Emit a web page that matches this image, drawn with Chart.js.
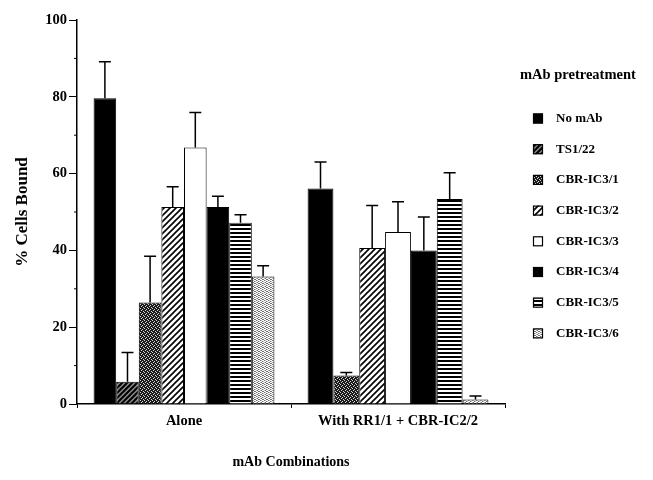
<!DOCTYPE html>
<html>
<head>
<meta charset="utf-8">
<script src="https://cdn.jsdelivr.net/npm/chart.js@4"></script>
<style>
html,body{margin:0;padding:0;background:#fff;}
#wrap{width:653px;height:480px;position:relative;}
</style>
</head>
<body>
<div id="wrap"><canvas id="c" width="653" height="480"></canvas></div>
<script>
// ---- data ----
const categories = ['Alone', 'With RR1/1 + CBR-IC2/2'];
const seriesNames = ['No mAb', 'TS1/22', 'CBR-IC3/1', 'CBR-IC3/2', 'CBR-IC3/3', 'CBR-IC3/4', 'CBR-IC3/5', 'CBR-IC3/6'];
const noMab   = [79.6, 56.1];
const ts122   = [5.8, null];
const cbr31   = [26.4, 7.4];
const cbr32   = [51.3, 40.6];
const cbr33   = [66.8, 44.8];
const cbr34   = [51.3, 40.0];
const cbr35   = [47.2, 53.4];
const cbr36   = [33.2, 1.2];
// upper error (SD) magnitudes
const noMabErr = [9.5, 6.9];
const ts122Err = [7.6, null];
const cbr31Err = [12.1, 0.8];
const cbr32Err = [5.3, 11.1];
const cbr33Err = [9.1, 7.9];
const cbr34Err = [2.8, 8.7];
const cbr35Err = [2.1, 6.8];
const cbr36Err = [2.8, 0.9];
const yTicks = [0, 20, 40, 60, 80, 100];
const yMinorTicks = [10, 30, 50, 70, 90];

const seriesValues = [noMab, ts122, cbr31, cbr32, cbr33, cbr34, cbr35, cbr36];
const seriesErrors = [noMabErr, ts122Err, cbr31Err, cbr32Err, cbr33Err, cbr34Err, cbr35Err, cbr36Err];

// ---- patterns ----
function tile(w, h, draw) {
  const c = document.createElement('canvas');
  c.width = w; c.height = h;
  const x = c.getContext('2d');
  draw(x, w, h);
  return document.getElementById('c').getContext('2d').createPattern(c, 'repeat');
}
function diag(x, s, color, lw) {
  x.strokeStyle = color; x.lineWidth = lw;
  x.beginPath();
  x.moveTo(0, s); x.lineTo(s, 0);
  x.moveTo(-s/2, s/2); x.lineTo(s/2, -s/2);
  x.moveTo(s/2, s + s/2); x.lineTo(s + s/2, s/2);
  x.stroke();
}
const fills = [
  '#000000',
  tile(5, 5, (x, w, h) => { x.fillStyle = '#8a8a8a'; x.fillRect(0,0,w,h); diag(x, 5, '#000', 2); }),
  tile(4, 4, (x, w, h) => { x.fillStyle = '#1a1a1a'; x.fillRect(0,0,w,h); x.fillStyle='#d8d8d8';
        [[0,0],[2,1],[1,2],[3,3]].forEach(p => x.fillRect(p[0], p[1], 1, 1)); }),
  tile(6, 6, (x, w, h) => { x.fillStyle = '#ffffff'; x.fillRect(0,0,w,h); diag(x, 6, '#000', 1.6); }),
  '#ffffff',
  '#000000',
  tile(4, 4, (x, w, h) => { x.fillStyle = '#ffffff'; x.fillRect(0,0,w,h); x.fillStyle='#000'; x.fillRect(0,0,w,2); }),
  tile(4, 4, (x, w, h) => { x.fillStyle = '#ffffff'; x.fillRect(0,0,w,h); x.fillStyle='#707070';
        [[0,0],[2,1],[1,2],[3,3],[2,3]].forEach(p => x.fillRect(p[0], p[1], 1, 1)); x.fillStyle='#b8b8b8';
        [[1,0],[3,1],[0,2]].forEach(p => x.fillRect(p[0], p[1], 1, 1)); })
];

const FONT = "'Liberation Serif', 'DejaVu Serif', serif";

const datasets = seriesNames.map((n, i) => ({
  label: n,
  data: seriesValues[i],
  errors: seriesErrors[i],
  backgroundColor: fills[i],
  borderColor: '#000',
  borderWidth: 1,
  borderSkipped: 'bottom',
  skipNull: true,
  categoryPercentage: 0.845,
  barPercentage: 1.0
}));

const errorBarPlugin = {
  id: 'errorBars',
  afterDatasetsDraw(chart) {
    const ctx = chart.ctx, y = chart.scales.y;
    ctx.save();
    ctx.strokeStyle = '#000'; ctx.lineWidth = 1.5;
    chart.data.datasets.forEach((ds, i) => {
      const meta = chart.getDatasetMeta(i);
      meta.data.forEach((el, j) => {
        const v = ds.data[j], e = ds.errors[j];
        if (v == null || e == null) return;
        const top = y.getPixelForValue(v + e);
        ctx.beginPath();
        ctx.moveTo(el.x, el.y);
        ctx.lineTo(el.x, top);
        ctx.moveTo(el.x - 6, top);
        ctx.lineTo(el.x + 6, top);
        ctx.stroke();
      });
    });
    // minor ticks on y axis
    const x0 = chart.scales.x.left;
    ctx.lineWidth = 1;
    yMinorTicks.forEach(t => {
      const py = y.getPixelForValue(t);
      ctx.beginPath(); ctx.moveTo(x0 - 3, py); ctx.lineTo(x0, py); ctx.stroke();
    });
    ctx.restore();
  }
};

const legendPlugin = {
  id: 'sideLegend',
  afterDraw(chart) {
    const ctx = chart.ctx;
    ctx.save();
    ctx.fillStyle = '#000';
    ctx.textBaseline = 'middle';
    ctx.textAlign = 'left';
    ctx.font = "bold 14.5px " + FONT;
    ctx.fillText('mAb pretreatment', 520, 75);
    ctx.font = "bold 13px " + FONT;
    chart.data.datasets.forEach((ds, i) => {
      const cy = 118.5 + i * 30.7;
      ctx.fillStyle = ds.backgroundColor;
      ctx.fillRect(533, cy - 5, 10, 10);
      ctx.strokeStyle = '#000'; ctx.lineWidth = 1.2;
      ctx.strokeRect(533.5, cy - 4.5, 9, 9);
      ctx.fillStyle = '#000';
      ctx.fillText(ds.label, 556, cy);
    });
    ctx.restore();
  }
};

new Chart(document.getElementById('c'), {
  type: 'bar',
  data: { labels: categories, datasets },
  options: {
    responsive: false,
    animation: false,
    devicePixelRatio: 1,
    layout: { padding: { left: 0, top: 20, right: 148, bottom: 5 } },
    plugins: { legend: { display: false }, tooltip: { enabled: false } },
    scales: {
      x: {
        grid: { display: true, drawOnChartArea: false, offset: true, tickLength: 4, color: '#000', lineWidth: 1 },
        border: { display: true, color: '#000', width: 1.5 },
        ticks: { color: '#000', font: { family: FONT, size: 14.5, weight: 'bold' }, padding: 5 },
        title: { display: true, text: 'mAb Combinations', color: '#000', font: { family: FONT, size: 14, weight: 'bold' }, padding: { top: 4, bottom: 4 } },
        afterFit: s => { s.height = 71; }
      },
      y: {
        min: 0, max: 100,
        afterBuildTicks: s => { s.ticks = yTicks.map(v => ({ value: v })); },
        grid: { display: true, drawOnChartArea: false, tickLength: 8, color: '#000', lineWidth: 1 },
        border: { display: true, color: '#000', width: 1.5 },
        ticks: { color: '#000', font: { family: FONT, size: 14.5, weight: 'bold' }, padding: 2 },
        title: { display: true, text: '% Cells Bound', color: '#000', font: { family: FONT, size: 17, weight: 'bold' }, padding: { top: 12, bottom: 4 } },
        afterFit: s => { s.width = 77; }
      }
    }
  },
  plugins: [errorBarPlugin, legendPlugin]
});
</script>
</body>
</html>
